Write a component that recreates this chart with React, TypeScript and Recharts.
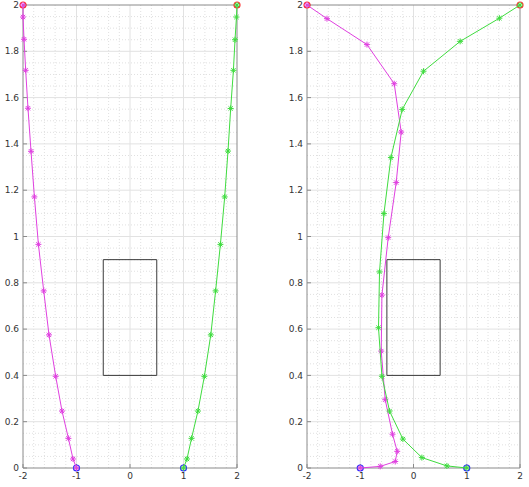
import React from "react";
import {
  ScatterChart,
  Scatter,
  XAxis,
  YAxis,
  ReferenceLine,
} from "recharts";

// ---- data ----
const xTicks = [-2, -1, 0, 1, 2];
const yTicks = [0, 0.2, 0.4, 0.6, 0.8, 1, 1.2, 1.4, 1.6, 1.8, 2];

const leftMagX = [-1, -1.065, -1.151, -1.271, -1.389, -1.514, -1.613, -1.712, -1.787, -1.85, -1.907, -1.95, -1.981, -2.0, -2];
const leftMagY = [0, 0.039, 0.128, 0.246, 0.396, 0.575, 0.765, 0.966, 1.171, 1.368, 1.554, 1.718, 1.852, 1.948, 2];
const leftGrnX = [1, 1.065, 1.15, 1.27, 1.39, 1.51, 1.6, 1.69, 1.77, 1.832, 1.882, 1.933, 1.963, 1.99, 2];
const leftGrnY = [0, 0.039, 0.128, 0.246, 0.396, 0.575, 0.765, 0.966, 1.171, 1.369, 1.553, 1.718, 1.85, 1.948, 2];

const rightMagX = [-1, -0.625, -0.343, -0.306, -0.394, -0.531, -0.606, -0.593, -0.475, -0.325, -0.231, -0.362, -0.874, -1.625, -2];
const rightMagY = [0, 0.007, 0.028, 0.072, 0.146, 0.295, 0.505, 0.747, 0.995, 1.233, 1.451, 1.66, 1.829, 1.941, 2];
const rightGrnX = [1, 0.627, 0.157, -0.199, -0.45, -0.593, -0.657, -0.638, -0.555, -0.424, -0.212, 0.188, 0.876, 1.613, 2];
const rightGrnY = [0, 0.009, 0.045, 0.125, 0.246, 0.396, 0.606, 0.847, 1.099, 1.341, 1.549, 1.714, 1.843, 1.943, 2];

const startPts = [{ x: -1, y: 0 }, { x: 1, y: 0 }];
const goalPts = [{ x: -2, y: 2 }, { x: 2, y: 2 }];

const obstacleX = [-0.5, 0.5, 0.5, -0.5, -0.5];
const obstacleY = [0.4, 0.4, 0.9, 0.9, 0.4];

// ---- styling helpers ----
const MAG = "#e040e0";
const GRN = "#3fdc3f";
const AXIS = "#8a8a8a";
const FONT = { fontSize: 9, fill: "#333", fontFamily: "DejaVu Sans, sans-serif" };

const zip = (xs: number[], ys: number[]) => xs.map((x, i) => ({ x, y: ys[i] }));

const r2 = (v: number) => Math.round(v * 1000) / 1000;
const xMinor: number[] = [];
for (let i = 1; i < 20; i++) {
  const v = r2(-2 + i * 0.2);
  if (!xTicks.includes(v)) xMinor.push(v);
}
const yMinor: number[] = [];
for (let i = 1; i < 40; i++) {
  const v = r2(i * 0.05);
  if (!yTicks.some((t) => Math.abs(t - v) < 1e-6)) yMinor.push(v);
}

const makeStar = (color: string) => (props: any) => {
  const { cx, cy } = props;
  if (cx == null || cy == null) return <g />;
  const r = 3;
  const d = r * 0.72;
  return (
    <g stroke={color} strokeWidth={1}>
      <line x1={cx - r} y1={cy} x2={cx + r} y2={cy} />
      <line x1={cx} y1={cy - r} x2={cx} y2={cy + r} />
      <line x1={cx - d} y1={cy - d} x2={cx + d} y2={cy + d} />
      <line x1={cx - d} y1={cy + d} x2={cx + d} y2={cy - d} />
    </g>
  );
};

const makeCircle = (color: string) => (props: any) => {
  const { cx, cy } = props;
  if (cx == null || cy == null) return <g />;
  return <circle cx={cx} cy={cy} r={3} fill="none" stroke={color} strokeWidth={1.2} />;
};

const NoShape = () => <g />;
const EmptyTick = () => <g />;

type PanelProps = {
  magX: number[];
  magY: number[];
  grnX: number[];
  grnY: number[];
  left: number;
  width: number;
  yAxisWidth: number;
  rightMargin: number;
};

const Panel = ({ magX, magY, grnX, grnY, left, width, yAxisWidth, rightMargin }: PanelProps) => (
  <div style={{ position: "absolute", left, top: 0 }}>
    <ScatterChart
      width={width}
      height={487}
      margin={{ top: 4, right: rightMargin, bottom: 0, left: 0 }}
    >
      <XAxis
        type="number"
        dataKey="x"
        domain={[-2, 2]}
        ticks={xTicks}
        height={19}
        tickSize={-4}
        tickMargin={9}
        stroke={AXIS}
        tick={FONT}
        interval={0}
      />
      <XAxis
        xAxisId="top"
        orientation="top"
        type="number"
        dataKey="x"
        domain={[-2, 2]}
        ticks={xTicks}
        height={1}
        tickSize={-4}
        stroke={AXIS}
        tick={EmptyTick}
        interval={0}
      />
      <YAxis
        type="number"
        dataKey="y"
        domain={[0, 2]}
        ticks={yTicks}
        width={yAxisWidth}
        tickSize={-4}
        tickMargin={8}
        stroke={AXIS}
        tick={FONT}
        interval={0}
      />
      <YAxis
        yAxisId="right"
        orientation="right"
        type="number"
        dataKey="y"
        domain={[0, 2]}
        ticks={yTicks}
        width={1}
        tickSize={-4}
        stroke={AXIS}
        tick={EmptyTick}
        interval={0}
      />
      {xMinor.map((v) => (
        <ReferenceLine key={"xm" + v} x={v} stroke="#e0e0e0" strokeDasharray="1 2" />
      ))}
      {yMinor.map((v) => (
        <ReferenceLine key={"ym" + v} y={v} stroke="#e0e0e0" strokeDasharray="1 2" />
      ))}
      {xTicks.slice(1, -1).map((v) => (
        <ReferenceLine key={"xM" + v} x={v} stroke="#e2e2e2" />
      ))}
      {yTicks.slice(1, -1).map((v) => (
        <ReferenceLine key={"yM" + v} y={v} stroke="#e2e2e2" />
      ))}
      <Scatter
        data={zip(obstacleX, obstacleY)}
        line={{ stroke: "#3a3a3a", strokeWidth: 1 }}
        lineType="joint"
        shape={NoShape}
        isAnimationActive={false}
      />
      <Scatter data={startPts} shape={makeCircle("#2a2aff")} isAnimationActive={false} />
      <Scatter data={goalPts} shape={makeCircle("#ff3030")} isAnimationActive={false} />
      <Scatter
        data={zip(magX, magY)}
        line={{ stroke: MAG, strokeWidth: 1 }}
        lineType="joint"
        shape={makeStar(MAG)}
        isAnimationActive={false}
      />
      <Scatter
        data={zip(grnX, grnY)}
        line={{ stroke: GRN, strokeWidth: 1 }}
        lineType="joint"
        shape={makeStar(GRN)}
        isAnimationActive={false}
      />
    </ScatterChart>
  </div>
);

export default function App() {
  return (
    <div style={{ position: "absolute", left: 0, top: 0, width: 529, height: 487, background: "#fff" }}>
      <Panel
        magX={leftMagX}
        magY={leftMagY}
        grnX={leftGrnX}
        grnY={leftGrnY}
        left={0}
        width={265}
        yAxisWidth={23}
        rightMargin={27}
      />
      <Panel
        magX={rightMagX}
        magY={rightMagY}
        grnX={rightGrnX}
        grnY={rightGrnY}
        left={270}
        width={259}
        yAxisWidth={37}
        rightMargin={8}
      />
    </div>
  );
}
